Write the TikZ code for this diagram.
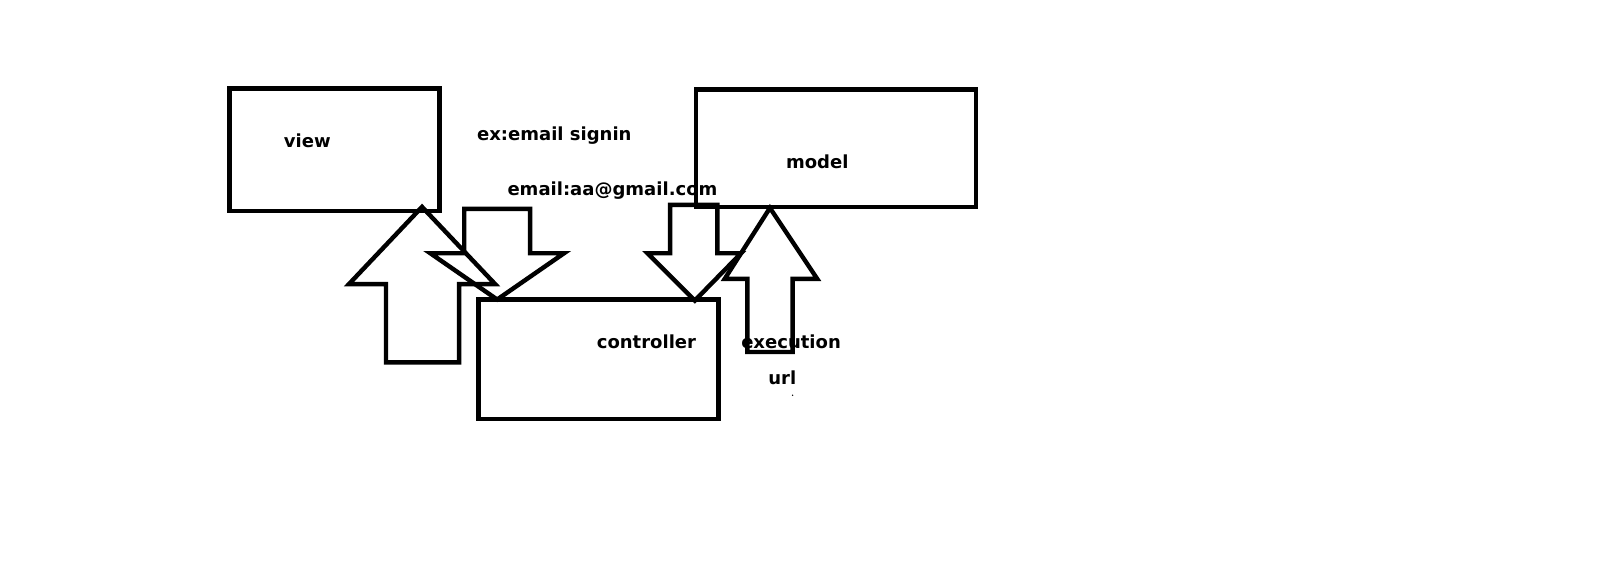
\documentclass[tikz,border=0pt]{standalone}
\usepackage{fontspec}
\setmainfont{DejaVu Sans}
\begin{document}
\begin{tikzpicture}[x=1pt,y=-1pt,
  box/.style={draw=black,line width=4.3pt},
  blk/.style={draw=black,line width=4.3pt,line join=miter},
  lbl/.style={font=\bfseries\fontsize{17.5}{20}\selectfont,inner sep=0pt,text=black}]
\useasboundingbox[fill=white] (0,0) rectangle (1568,548);
% boxes
\draw[box] (223,86) rectangle (427,205);
\draw[box] (676,87) rectangle (948,201);
\draw[box] (465,291) rectangle (698,407);
% block arrows
\draw[blk] (410,201) -- (481,276) -- (446,276) -- (446,352) -- (375,352) -- (375,276) -- (339,276) -- cycle;
\draw[blk] (451,203) -- (515,203) -- (515,246) -- (548,246) -- (483,291) -- (418,246) -- (451,246) -- cycle;
\draw[blk] (651,199) -- (697,199) -- (697,246) -- (720,246) -- (675,292) -- (629,246) -- (651,246) -- cycle;
\draw[blk] (748,202) -- (794,271) -- (770,271) -- (770,342) -- (726,342) -- (726,271) -- (704,271) -- cycle;
% labels
\node[lbl] (view) at (298.5,137) {view};
\node[lbl] (signin) at (538.5,132) {ex:email signin};
\node[lbl] (model) at (794,157) {model};
\node[lbl] (email) at (595,185) {email:aa@gmail.com};
\node[lbl] (controller) at (628,332) {controller};
\node[lbl] (execution) at (768.5,332) {execution};
\node[lbl] (url) at (760,367) {url};
\fill[black] (770,384) circle (0.8);
\end{tikzpicture}
\end{document}
